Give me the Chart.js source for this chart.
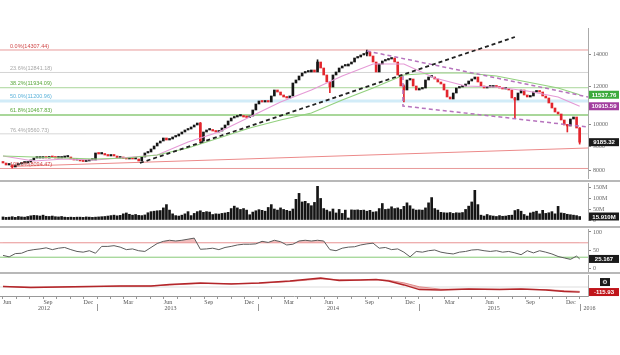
<!DOCTYPE html>
<html>
<head>
<meta charset="utf-8">
<script src="https://cdn.jsdelivr.net/npm/chart.js@4.4.1/dist/chart.umd.min.js"></script>
<style>
  body { margin: 0; background: #fff; }
  #wrap { position: relative; width: 620px; height: 355px; overflow: hidden; }
  canvas { position: absolute; left: 0; top: 0; }
  .sep { position: absolute; left: 0; width: 620px; height: 2px; background: #b8b8b8; }
</style>
</head>
<body>
<div id="wrap">
  <canvas id="priceChart" width="620" height="355"></canvas>
  <canvas id="volumeChart" width="620" height="355"></canvas>
  <canvas id="rsiChart" width="620" height="355"></canvas>
  <canvas id="macdChart" width="620" height="355"></canvas>
  <div class="sep" style="top:180px"></div>
  <div class="sep" style="top:226px"></div>
  <div class="sep" style="top:272px"></div>
</div>
<script>
// weekly closes, week 0 = first week of June 2012
const firstOpen = 8350;
const closes = [
  8310, 8231, 8231, 8152, 8231, 8270, 8310, 8310, 8350, 8431, 8512, 8512, 8512, 8533, 8512, 8574, 8533, 8512,
  8512, 8533, 8554, 8554, 8472, 8431, 8431, 8391, 8370, 8391, 8431, 8431, 8720, 8678, 8678, 8636, 8595, 8636,
  8595, 8512, 8512, 8492, 8472, 8512, 8472, 8472, 8391, 8554, 8720, 8762, 8889, 9018, 9149, 9237, 9372, 9282,
  9327, 9417, 9462, 9554, 9646, 9739, 9786, 9881, 9976, 10072, 9237, 9646, 9739, 9739, 9692, 9646, 9692, 9833,
  9976, 10170, 10317, 10367, 10417, 10417, 10367, 10342, 10417, 10722, 11036, 11196, 11142, 11169, 11142, 11469,
  11804, 11691, 11524, 11414, 11359, 11469, 12208, 12386, 12626, 12809, 12871, 12871, 12996, 12871, 13505, 13121,
  12687, 12267, 11976, 12687, 12871, 13121, 13248, 13248, 13376, 13505, 13767, 13834, 13967, 14035, 14170, 13900,
  13505, 12871, 13376, 13570, 13636, 13701, 13767, 13505, 12687, 12033, 11804, 12386, 12445, 12033, 11804, 11861,
  11918, 12386, 12565, 12565, 12445, 12267, 12150, 11804, 11414, 11304, 11635, 11918, 11976, 12033, 12150, 12326,
  12445, 12565, 12267, 12033, 11918, 11976, 11976, 12033, 11976, 11918, 11861, 11861, 11804, 11359, 11250, 11635,
  11804, 11524, 11414, 11469, 11691, 11748, 11691, 11469, 11359, 11089, 10826, 10619, 10518, 10219, 9976, 9928,
  10268, 10367, 9833, 9185.32
];
// notable wicks: [week, low, high]
const wicks = [
  [3, 8113, 8231], [64, 9150, 10100], [102, 13000, 13650], [106, 11650, 12300], [118, 13900, 14307],
  [130, 11142, 12100], [166, 10317, 11400], [183, 9646, 10000], [187, 9100, 9850]
];
const volumes = [
  14, 12, 13, 15, 12, 16, 14, 13, 16, 19, 21, 20, 18, 22, 17, 16, 18, 15, 14, 16, 13, 12, 13,
  12, 13, 13, 12, 14, 13, 12, 13, 14, 15, 16, 18, 20, 22, 19, 21, 28, 32, 26, 22, 25, 21, 20, 23,
  33, 38, 40, 42, 43, 55, 70, 45, 28, 20, 18, 22, 28, 38, 20, 30, 38, 42, 35, 38, 36,
  25, 28, 27, 30, 32, 35, 52, 63, 55, 48, 52, 45, 24, 36, 42, 47, 44, 40, 57, 70, 50,
  45, 55, 48, 44, 40, 50, 94, 121, 82, 85, 75, 65, 80, 153, 98, 52, 45, 38, 50, 32, 48, 30, 45, 9,
  46, 45, 46, 44, 45, 40, 44, 36, 38, 52, 75, 48, 50, 60, 52, 55, 48, 62, 78, 65, 50, 45, 46, 45, 55,
  78, 102, 52, 45, 35, 33, 32, 34, 30, 33, 32, 34, 48, 63, 82, 135, 70, 22, 18, 25, 20,
  18, 16, 20, 17, 18, 21, 22, 43, 48, 40, 25, 18, 32, 36, 40, 28, 44, 30, 33, 38, 28, 62,
  32, 30, 26, 24, 22, 20, 15.91
];
const maWeeks = [0, 10, 20, 30, 40, 50, 60, 70, 80, 90, 100, 110, 120, 130, 140, 150, 160, 170, 180, 187];
const maFast = [8595, 8391, 8472, 8431, 8533, 8636, 9193, 9646, 10367, 11142, 11804, 12626, 13376, 13376,
  12505, 12033, 11976, 11748, 11414, 10915.59];
const maSlow = [8595, 8554, 8512, 8472, 8512, 8636, 8932, 9372, 9833, 10219, 10569, 11250, 11918, 12687,
  12809, 12809, 12626, 12267, 11918, 11537.76];
const fibPct = ['0.0%', '23.6%', '38.2%', '50.0%', '61.8%', '76.4%', '100.0%'];
const fibLevels = [14307.44, 12841.18, 11934.09, 11200.96, 10467.83, 9560.73, 8094.47];
// drawn trend lines: [week, price]
const upTrend = [[44.4, 8310], [166, 15231]];
const channelTop = [[118, 14239], [189.7, 11414]];
const channelBottom = [[129.7, 12626], [129.7, 10930], [189.7, 9881]];
const supportLine = [[2.3, 8171], [189.7, 8932]];
const priceTicks = [8000, 9000, 10000, 12000, 14000];
const volumeTicks = [0, 50, 100, 150];
// RSI every second week, last point = last week
const rsi = [35, 31, 40, 41, 48, 51, 53, 56, 51, 55, 57, 51, 46, 44, 48, 41, 60, 60, 62, 58,
  51, 53, 48, 46, 57, 68, 74, 77, 75, 77, 80, 83, 52, 53, 55, 51, 57, 60, 64, 66,
  66, 67, 74, 71, 77, 73, 64, 66, 75, 77, 75, 77, 75, 51, 48, 55, 58, 59, 64, 67,
  69, 55, 57, 51, 53, 44, 31, 46, 44, 48, 50, 44, 41, 39, 44, 46, 50, 51, 48, 46,
  48, 44, 46, 42, 37, 48, 42, 48, 44, 39, 32, 28, 24, 33, 25.167];
const rsiTicks = [0, 50, 100];
const macdWeeks = [0, 9, 18, 28, 38, 48, 54, 64, 74, 83, 93, 103, 109, 116, 121, 125, 130, 135, 142, 151, 161, 168, 176, 182, 187];
const macd = [12, -12, 0, 12, 23, 23, 58, 92, 69, 92, 138, 207, 150, 161, 172, 138, 46, -58, -69, -46, -58, -46, -69, -104, -115.93];
const macdSignal = [15, -5, -2, 8, 18, 22, 45, 80, 78, 85, 125, 185, 170, 160, 168, 155, 95, 5, -50, -50, -52, -50, -60, -85, -100];
const axisMonths = ['Jun', 'Sep', 'Dec', 'Mar', 'Jun', 'Sep', 'Dec', 'Mar', 'Jun', 'Sep', 'Dec', 'Mar', 'Jun', 'Sep', 'Dec'];
const years = ['2012', '2013', '2014', '2015', '2016'];
const yearMid = ['2012-09-02', '2013-06-16', '2014-06-20', '2015-06-20', null];

const RED = '#e3262d', BLACK = '#161616';
const X_MIN = -0.97, X_MAX = 189.7;
const start = Date.UTC(2012, 5, 1);
const weekOf = d => (Date.parse(d) - start) / (7 * 864e5);

Chart.defaults.font.family = '"Liberation Serif", serif';
Chart.defaults.font.size = 6;
Chart.defaults.color = '#555';
Chart.defaults.elements.point.radius = 0;
Chart.defaults.elements.line.tension = 0;

// monthly ticks, labelled every quarter
const monthTicks = [], monthLabels = [];
for (let i = 0; i <= 43; i++) {
  const d = new Date(Date.UTC(2012, 5 + i, 1));
  monthTicks.push((d - start) / (7 * 864e5));
  monthLabels.push(i % 3 === 0 && i / 3 < axisMonths.length ? axisMonths[i / 3] : '');
}

const opens = closes.map((c, i) => i ? closes[i - 1] : firstOpen);
const candleColor = closes.map((c, i) => c < opens[i] ? RED : BLACK);

function hiddenX() {
  return { type: 'linear', min: X_MIN, max: X_MAX, offset: false, bounds: 'data', display: false, grid: { offset: false } };
}
function rightY(extra) {
  return Object.assign({
    position: 'right',
    bounds: 'data',
    border: { color: '#aaa' },
    grid: { drawOnChartArea: false, drawTicks: true, tickLength: 3, color: '#888' },
    ticks: { padding: 2, color: '#666', font: { size: 6 } },
    afterFit: s => { s.width = 32; }
  }, extra);
}
function pts(arr) { return arr.map(p => ({ x: p[0], y: p[1] })); }
function hline(v) { return [{ x: X_MIN, y: v }, { x: X_MAX, y: v }]; }

function boxPlugin(id, boxes, icon) {
  return {
    id: id,
    afterDraw(chart) {
      const ctx = chart.ctx, y = chart.scales.y, right = chart.chartArea.right;
      ctx.save();
      ctx.font = 'bold 6px "Liberation Sans", sans-serif';
      ctx.textAlign = 'center';
      ctx.textBaseline = 'middle';
      boxes.forEach(b => {
        const py = y.getPixelForValue(b.value);
        ctx.fillStyle = b.color;
        ctx.fillRect(right + 1, py - 4, 30, 8);
        ctx.fillStyle = '#fff';
        ctx.fillText(b.text, right + 16, py + 0.5);
        if (icon) {
          ctx.fillStyle = '#1a1a1a';
          ctx.fillRect(right + 12, py - 14, 10, 8);
          ctx.fillStyle = '#fff';
          ctx.font = '6px "DejaVu Sans"';
          ctx.fillText('\u2699', right + 17, py - 10);
        }
      });
      ctx.restore();
    }
  };
}

const fibLineColor = ['#e89a9a', '#d4d4d4', '#a9d79a', '#d2ecf8', '#a9d79a', '#d8d8d8', '#e89a9a'];
const fibLineWidth = [1, 1, 1, 3, 2, 1, 1];
const fibTextColor = ['#d04848', '#a8a8a8', '#5aa83c', '#5ab2da', '#5aa83c', '#a8a8a8', '#d04848'];

const fibLabelPlugin = {
  id: 'fibLabels',
  afterDatasetsDraw(chart) {
    const ctx = chart.ctx, y = chart.scales.y;
    ctx.save();
    ctx.font = '5.5px "Liberation Sans", sans-serif';
    ctx.textBaseline = 'bottom';
    fibLevels.forEach((lv, i) => {
      ctx.fillStyle = fibTextColor[i];
      ctx.fillText(fibPct[i] + '(' + lv.toFixed(2) + ')', 10, y.getPixelForValue(lv) - fibLineWidth[i] / 2 - 0.5);
    });
    ctx.restore();
  }
};

const fibSets = fibLevels.map((lv, i) => ({
  type: 'line', data: hline(lv), borderColor: fibLineColor[i], borderWidth: fibLineWidth[i], order: 10
}));

new Chart(document.getElementById('priceChart'), {
  type: 'bar',
  data: {
    datasets: fibSets.concat([
      { type: 'line', data: pts(supportLine), borderColor: '#ec8a8a', borderWidth: 1, order: 9 },
      { type: 'bar', data: wicks.map(w => ({ x: w[0], y: [w[1], w[2]] })), backgroundColor: wicks.map(w => candleColor[w[0]]),
        barThickness: 1, grouped: false, order: 5 },
      { type: 'bar', data: closes.map((c, i) => ({ x: i, y: [opens[i], c] })), backgroundColor: candleColor,
        barThickness: 2, minBarLength: 1.5, grouped: false, order: 4 },
      { type: 'line', data: maWeeks.map((w, i) => ({ x: w, y: maSlow[i] })), borderColor: '#93d17f', borderWidth: 1.2, order: 3 },
      { type: 'line', data: maWeeks.map((w, i) => ({ x: w, y: maFast[i] })), borderColor: '#e59ad6', borderWidth: 1.2, order: 3 },
      { type: 'line', data: pts(upTrend), borderColor: '#222', borderWidth: 1.8, borderDash: [4, 3], order: 2 },
      { type: 'line', data: pts(channelTop), borderColor: '#b673bd', borderWidth: 1.5, borderDash: [4, 3], order: 2 },
      { type: 'line', data: pts(channelBottom), borderColor: '#b673bd', borderWidth: 1.5, borderDash: [4, 3], order: 2 }
    ])
  },
  options: {
    responsive: false, animation: false, events: [],
    layout: { padding: { top: 28, bottom: 177, left: 0, right: 0 } },
    plugins: { legend: { display: false }, tooltip: { enabled: false } },
    scales: {
      x: hiddenX(),
      y: rightY({
        type: 'logarithmic', min: 7732, max: 15903,
        afterBuildTicks: s => { s.ticks = priceTicks.map(v => ({ value: v })); },
        ticks: { padding: 2, color: '#666', font: { size: 6 }, callback: v => String(v) }
      })
    }
  },
  plugins: [fibLabelPlugin, boxPlugin('priceBoxes', [
    { value: maSlow[maSlow.length - 1], text: maSlow[maSlow.length - 1].toFixed(2), color: '#3caa3c' },
    { value: maFast[maFast.length - 1], text: maFast[maFast.length - 1].toFixed(2), color: '#a23f9e' },
    { value: closes[closes.length - 1], text: closes[closes.length - 1].toFixed(2), color: '#1a1a1a' }
  ])]
});

new Chart(document.getElementById('volumeChart'), {
  type: 'bar',
  data: {
    datasets: [{ data: volumes.map((v, i) => ({ x: i, y: v })), backgroundColor: '#151515', barThickness: 2 }]
  },
  options: {
    responsive: false, animation: false, events: [],
    layout: { padding: { top: 183, bottom: 135, left: 0, right: 0 } },
    plugins: { legend: { display: false }, tooltip: { enabled: false } },
    scales: {
      x: hiddenX(),
      y: rightY({
        min: 0, max: 168.2,
        afterBuildTicks: s => { s.ticks = volumeTicks.map(v => ({ value: v })); },
        ticks: { padding: 2, color: '#666', font: { size: 6 }, callback: v => v ? v + 'M' : '0' }
      })
    }
  },
  plugins: [boxPlugin('volBoxes', [{ value: volumes[volumes.length - 1], text: volumes[volumes.length - 1].toFixed(3) + 'M', color: '#1a1a1a' }])]
});

const rsiPoints = rsi.map((v, i) => ({ x: Math.min(i * 2, closes.length - 1), y: v }));
new Chart(document.getElementById('rsiChart'), {
  type: 'line',
  data: {
    datasets: [
      { data: hline(70), borderColor: '#eb9a9a', borderWidth: 1, order: 5 },
      { data: hline(30), borderColor: '#8ccc7c', borderWidth: 1, order: 5 },
      { data: rsiPoints, borderColor: 'rgba(0,0,0,0)', borderWidth: 0, order: 4,
        fill: { target: { value: 30 }, above: 'rgba(0,0,0,0)', below: 'rgba(120,200,110,0.45)' } },
      { data: rsiPoints, borderColor: '#5c5c5c', borderWidth: 1, order: 1,
        fill: { target: { value: 70 }, above: 'rgba(225,110,110,0.45)', below: 'rgba(0,0,0,0)' } }
    ]
  },
  options: {
    responsive: false, animation: false, events: [],
    layout: { padding: { top: 229, bottom: 84, left: 0, right: 0 } },
    plugins: { legend: { display: false }, tooltip: { enabled: false } },
    scales: {
      x: hiddenX(),
      y: rightY({
        min: -8.3, max: 108.3,
        afterBuildTicks: s => { s.ticks = rsiTicks.map(v => ({ value: v })); },
        ticks: { padding: 2, color: '#666', font: { size: 6 }, callback: v => String(v) }
      })
    }
  },
  plugins: [boxPlugin('rsiBoxes', [{ value: rsi[rsi.length - 1], text: rsi[rsi.length - 1].toFixed(3), color: '#1a1a1a' }])]
});

const yearPlugin = {
  id: 'years',
  afterDraw(chart) {
    const ctx = chart.ctx, x = chart.scales.x, base = chart.chartArea.bottom;
    ctx.save();
    ctx.font = '6px "Liberation Serif", serif';
    ctx.fillStyle = '#555';
    ctx.strokeStyle = '#999';
    ctx.lineWidth = 1;
    ctx.textBaseline = 'middle';
    years.forEach((yr, i) => {
      const sepX = Math.round(x.getPixelForValue(weekOf(yr + '-01-01'))) + 0.5;
      if (i > 0) {
        ctx.beginPath(); ctx.moveTo(sepX, base + 8); ctx.lineTo(sepX, base + 15); ctx.stroke();
      }
      if (yearMid[i]) {
        ctx.textAlign = 'center';
        ctx.fillText(yr, x.getPixelForValue(weekOf(yearMid[i])), base + 12);
      } else {
        ctx.textAlign = 'left';
        ctx.fillText(yr, sepX + 3, base + 12);
      }
    });
    ctx.restore();
  }
};

new Chart(document.getElementById('macdChart'), {
  type: 'line',
  data: {
    datasets: [
      { data: hline(0), borderColor: '#dddddd', borderWidth: 1, order: 5 },
      { data: macdWeeks.map((w, i) => ({ x: w, y: macd[i] })), borderColor: '#b3262a', borderWidth: 1.3, order: 1 },
      { data: macdWeeks.map((w, i) => ({ x: w, y: macdSignal[i] })), borderColor: '#e08a8a', borderWidth: 1, order: 2,
        fill: { target: '-1', above: 'rgba(225,110,110,0.45)', below: 'rgba(225,110,110,0.45)' } }
    ]
  },
  options: {
    responsive: false, animation: false, events: [],
    layout: { padding: { top: 275, bottom: 39, left: 0, right: 0 } },
    plugins: { legend: { display: false }, tooltip: { enabled: false } },
    scales: {
      x: {
        type: 'linear', min: X_MIN, max: X_MAX, offset: false, bounds: 'data',
        border: { color: '#999' },
        grid: { drawOnChartArea: false, drawTicks: true, tickLength: 3, color: '#999', offset: false },
        ticks: { padding: 0, maxRotation: 0, autoSkip: false, align: 'start', color: '#555', font: { size: 6 },
          callback: (v, i) => monthLabels[i] },
        afterBuildTicks: s => { s.ticks = monthTicks.map(v => ({ value: v })); },
        afterFit: s => { s.height = 20; }
      },
      y: rightY({
        min: -207, max: 276,
        ticks: { display: false },
        grid: { drawOnChartArea: false, drawTicks: false }
      })
    }
  },
  plugins: [yearPlugin, boxPlugin('macdBoxes', [{ value: macd[macd.length - 1], text: macd[macd.length - 1].toFixed(2), color: '#c0141a' }], true)]
});
</script>
</body>
</html>
